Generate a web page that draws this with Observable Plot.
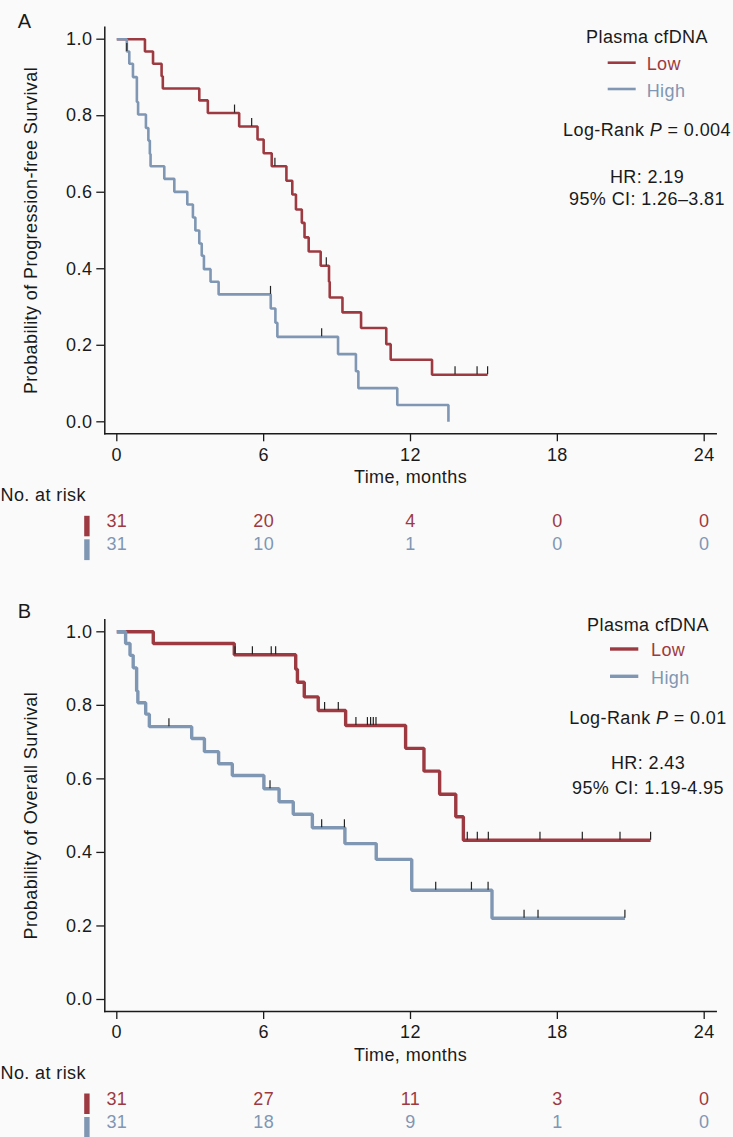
<!DOCTYPE html>
<html><head><meta charset="utf-8">
<script src="https://cdn.jsdelivr.net/npm/d3@7"></script>
<script src="https://cdn.jsdelivr.net/npm/@observablehq/plot@0.6"></script>
<style>
body{margin:0;background:#fafafa;}
#chart svg{display:block;}
</style></head><body><div id="chart"></div>
<script>
const RED = "#9d3a41", BLUE = "#7f97b3";
const groups = ["Low", "High"];
const xTicks = [0, 6, 12, 18, 24];
const yTicks = [0, 0.2, 0.4, 0.6, 0.8, 1.0];
const riskTimes = [0, 6, 12, 18, 24];

// Panel A: progression-free survival
const pfsLowT = [0,1.15,1.48,1.83,1.88,3.37,3.72,5.00,5.75,6.00,6.33,6.93,7.17,7.32,7.56,7.67,7.84,8.33,8.67,8.70,9.22,9.98,11.01,11.19,12.88,15.15];
const pfsLowS = [1,0.968,0.936,0.903,0.871,0.840,0.807,0.772,0.738,0.702,0.668,0.630,0.594,0.555,0.520,0.482,0.445,0.408,0.366,0.325,0.286,0.245,0.203,0.162,0.123,0.123];
const pfsLowCensT = [4.81,5.51,6.46,8.56,13.82,14.72,15.15];
const pfsLowCensS = [0.807,0.772,0.668,0.408,0.123,0.123,0.123];
const pfsHighT = [0,0.41,0.51,0.66,0.82,0.87,1.19,1.29,1.35,1.38,1.94,2.35,2.88,3.11,3.21,3.37,3.47,3.56,3.83,4.16,6.29,6.48,6.56,9.04,9.77,9.87,11.46,13.55];
const pfsHighS = [1,0.968,0.936,0.901,0.836,0.803,0.768,0.735,0.700,0.668,0.635,0.601,0.568,0.534,0.500,0.466,0.434,0.399,0.366,0.333,0.296,0.259,0.222,0.177,0.132,0.088,0.044,0];
const pfsHighCensT = [0.41,6.28,8.37];
const pfsHighCensS = [0.968,0.333,0.222];
const pfsRiskLow = [31, 20, 4, 0, 0];
const pfsRiskHigh = [31, 10, 1, 0, 0];

// Panel B: overall survival
const osLowT = [0,1.49,4.80,7.31,7.38,7.66,8.23,9.35,11.80,12.55,13.19,13.85,14.16,21.81];
const osLowS = [1,0.968,0.9375,0.898,0.863,0.823,0.786,0.745,0.683,0.621,0.558,0.497,0.433,0.433];
const osLowCensT = [4.83,5.54,6.31,6.49,8.49,9.05,9.77,10.24,10.37,10.48,10.59,14.32,14.73,15.18,17.29,19.02,20.56,21.81];
const osLowCensS = [0.9375,0.9375,0.9375,0.9375,0.786,0.786,0.745,0.745,0.745,0.745,0.745,0.433,0.433,0.433,0.433,0.433,0.433,0.433];
const osHighT = [0,0.36,0.54,0.67,0.81,0.86,1.18,1.33,3.06,3.58,4.16,4.72,6.01,6.63,7.21,7.99,9.32,10.60,12.05,15.33,20.76];
const osHighS = [1,0.968,0.936,0.902,0.839,0.807,0.776,0.742,0.710,0.674,0.641,0.609,0.573,0.538,0.504,0.467,0.424,0.381,0.297,0.221,0.221];
const osHighCensT = [2.13,6.26,8.37,9.30,13.03,14.49,15.17,16.64,17.21,20.76];
const osHighCensS = [0.742,0.573,0.467,0.467,0.297,0.297,0.297,0.221,0.221,0.221];
const osRiskLow = [31, 27, 11, 3, 0];
const osRiskHigh = [31, 18, 9, 1, 0];

const FONT = "'Liberation Sans', Arial, Helvetica, sans-serif";

function zipCurve(T, S) { return T.map((t, i) => ({t, s: S[i]})); }

function panel(cfg) {
  const W = 733, mL = 104.3, mR = 17.3;
  const {height, marginTop, marginBottom, lw, letter, letterDy, leg} = cfg;
  const frameBottom = height - marginBottom;
  const low = zipCurve(cfg.lowT, cfg.lowS), high = zipCurve(cfg.highT, cfg.highS);
  const censL = zipCurve(cfg.lowCT, cfg.lowCS), censH = zipCurve(cfg.highCT, cfg.highCS);
  const rLow = riskTimes.map((t, i) => ({t, n: cfg.riskLow[i]}));
  const rHigh = riskTimes.map((t, i) => ({t, n: cfg.riskHigh[i]}));

  const overlay = () => {
    const g = d3.create("svg:g").attr("font-family", FONT).attr("font-size", 18).attr("letter-spacing", "0.4px");
    const top = marginTop;
    const text = (x, y, s, anchor, fill) => g.append("text").attr("x", x).attr("y", top + y).attr("dy", "0.35em")
      .attr("text-anchor", anchor).attr("fill", fill || "#1a1a1a").text(s);
    text(leg.cx, leg.title, "Plasma cfDNA", "middle");
    g.append("line").attr("x1", leg.l0).attr("x2", leg.l1).attr("y1", top + leg.low).attr("y2", top + leg.low)
      .attr("stroke", RED).attr("stroke-width", lw);
    g.append("line").attr("x1", leg.l0).attr("x2", leg.l1).attr("y1", top + leg.high).attr("y2", top + leg.high)
      .attr("stroke", BLUE).attr("stroke-width", lw);
    text(leg.tx, leg.low + 0.8, groups[0], "start", RED);
    text(leg.tx, leg.high + 1.2, groups[1], "start", BLUE);
    const lr = g.append("text").attr("x", leg.cx).attr("y", top + leg.logrank).attr("dy", "0.35em")
      .attr("text-anchor", "middle").attr("fill", "#1a1a1a");
    lr.append("tspan").text("Log-Rank ");
    lr.append("tspan").attr("font-style", "italic").text("P");
    lr.append("tspan").text(" = " + cfg.p);
    text(leg.cx, leg.hr, "HR: " + cfg.hr, "middle");
    text(leg.cx, leg.ci, "95% CI: " + cfg.ci, "middle");
    // risk table colour bars
    g.append("rect").attr("x", 84.2).attr("width", 5.4).attr("y", frameBottom + 82.5).attr("height", 20.5).attr("fill", RED);
    g.append("rect").attr("x", 84.2).attr("width", 5.4).attr("y", frameBottom + 106).attr("height", 20.8).attr("fill", BLUE);
    return g.node();
  };

  return Plot.plot({
    width: W, height, marginLeft: mL, marginRight: mR, marginTop, marginBottom,
    style: {fontFamily: FONT, fontSize: "18px", background: "#fafafa", color: "#1a1a1a", letterSpacing: "0.4px", overflow: "visible"},
    x: {domain: [0, 24], insetLeft: 12, insetRight: 12},
    y: {domain: [0, 1], insetTop: 12, insetBottom: 12},
    marks: [
      Plot.frame({anchor: "left", stroke: "#1a1a1a", strokeWidth: 1.5}),
      Plot.frame({anchor: "bottom", stroke: "#1a1a1a", strokeWidth: 1.5}),
      Plot.axisY({ticks: yTicks, tickFormat: d3.format(".1f"), tickSize: 8, tickPadding: 4.5, label: null, fontSize: 18, strokeWidth: 1.3}),
      Plot.axisX({ticks: xTicks, tickSize: 8, tickPadding: 6, label: null, fontSize: 18, strokeWidth: 1.3}),
      Plot.line(low, {x: "t", y: "s", curve: "step-after", stroke: RED, strokeWidth: lw, strokeLinecap: "butt", strokeLinejoin: "miter"}),
      Plot.line(high, {x: "t", y: "s", curve: "step-after", stroke: BLUE, strokeWidth: lw, strokeLinecap: "butt", strokeLinejoin: "miter"}),
      Plot.ruleX(censL, {x: "t", y1: "s", y2: "s", insetTop: -8, stroke: "#222", strokeWidth: 1.2}),
      Plot.ruleX(censH, {x: "t", y1: "s", y2: "s", insetTop: -8, stroke: "#222", strokeWidth: 1.2}),
      Plot.text([cfg.ytitle], {frameAnchor: "left", dx: -74, rotate: -90, textAnchor: "middle", lineAnchor: "middle", fontSize: 18, fill: "#1a1a1a"}),
      Plot.text(["Time, months"], {frameAnchor: "bottom", dy: 49.5, fontSize: 18, fill: "#1a1a1a"}),
      Plot.text(["No. at risk"], {frameAnchor: "bottom-left", dx: -mL, dy: 67.5, textAnchor: "start", fontSize: 18, fill: "#1a1a1a"}),
      Plot.text(rLow, {x: "t", text: "n", frameAnchor: "bottom", dy: 93, fontSize: 18, fill: RED}),
      Plot.text(rHigh, {x: "t", text: "n", frameAnchor: "bottom", dy: 116.3, fontSize: 18, fill: BLUE}),
      Plot.text([letter], {frameAnchor: "top-left", dx: -mL + 17.3, dy: letterDy, textAnchor: "start", fontSize: 20, fill: "#1a1a1a"}),
      overlay
    ]
  });
}

const chart = document.getElementById("chart");
chart.append(panel({
  height: 575, marginTop: 26.7, marginBottom: 141.7, lw: 2.6, letter: "A", letterDy: -13,
  lowT: pfsLowT, lowS: pfsLowS, highT: pfsHighT, highS: pfsHighS,
  lowCT: pfsLowCensT, lowCS: pfsLowCensS, highCT: pfsHighCensT, highCS: pfsHighCensS,
  riskLow: pfsRiskLow, riskHigh: pfsRiskHigh,
  ytitle: "Probability of Progression-free Survival",
  p: "0.004", hr: "2.19", ci: "1.26\u20133.81",
  leg: {cx: 647, title: 10, low: 36, high: 62.3, l0: 607.7, l1: 635.7, tx: 646.7, logrank: 103.3, hr: 150, ci: 172.3}
}));
chart.append(panel({
  height: 562, marginTop: 44.3, marginBottom: 126, lw: 3.4, letter: "B", letterDy: -15.6,
  lowT: osLowT, lowS: osLowS, highT: osHighT, highS: osHighS,
  lowCT: osLowCensT, lowCS: osLowCensS, highCT: osHighCensT, highCS: osHighCensS,
  riskLow: osRiskLow, riskHigh: osRiskHigh,
  ytitle: "Probability of Overall Survival",
  p: "0.01", hr: "2.43", ci: "1.19-4.95",
  leg: {cx: 648, title: 5.7, low: 29.7, high: 57, l0: 610, l1: 638.3, tx: 651, logrank: 98, hr: 143.7, ci: 168.4}
}));
</script></body></html>
